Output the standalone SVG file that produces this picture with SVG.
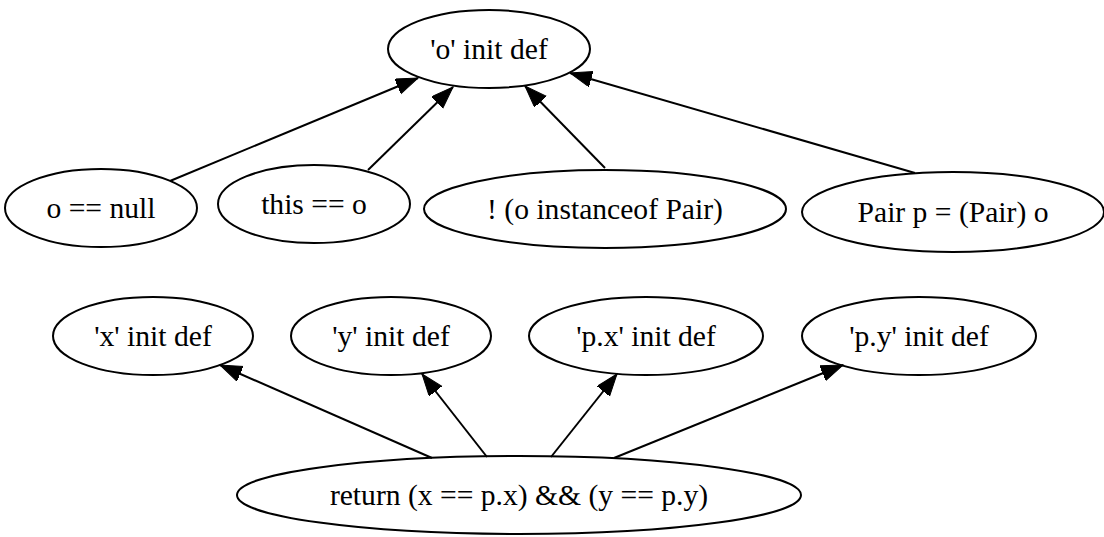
<svg xmlns="http://www.w3.org/2000/svg" width="1104" height="537" viewBox="0 0 1104 537">
<style>
.n ellipse{fill:none;stroke:#000;stroke-width:2}
.n text{font-family:"Liberation Serif","Times New Roman",serif;font-size:29.6px;text-anchor:middle;fill:#000}
.e line{stroke:#000;stroke-width:2;marker-end:url(#ah)}
</style>
<defs>
<marker id="ah" markerUnits="userSpaceOnUse" markerWidth="24" markerHeight="18" refX="22" refY="8" orient="auto">
<path d="M0,0 L22,8 L0,16 z" fill="#000" stroke="#000" stroke-width="1"/>
</marker>
</defs>
<rect width="1104" height="537" fill="#fff"/>
<g id="edges" class="e">
<line x1="170" y1="181" x2="418" y2="78"/>
<line x1="368" y1="170" x2="453" y2="87"/>
<line x1="605" y1="168" x2="525" y2="86"/>
<line x1="915" y1="173" x2="570" y2="73"/>
<line x1="432" y1="458" x2="220" y2="365"/>
<line x1="487" y1="457" x2="422" y2="374"/>
<line x1="551" y1="457" x2="617" y2="374"/>
<line x1="614" y1="458" x2="843" y2="365"/>
</g>
<g id="o_def" class="n"><ellipse cx="489" cy="49" rx="101" ry="39"/><text x="489" y="59">'o' init def</text></g>
<g id="o_null" class="n"><ellipse cx="101" cy="208" rx="96" ry="39"/><text x="101" y="218">o == null</text></g>
<g id="this_o" class="n"><ellipse cx="314" cy="204" rx="96" ry="39"/><text x="314" y="214">this == o</text></g>
<g id="instanceof" class="n"><ellipse cx="605" cy="209" rx="181" ry="39"/><text x="605" y="219">! (o instanceof Pair)</text></g>
<g id="pair_p" class="n"><ellipse cx="953" cy="212" rx="151" ry="40"/><text x="953" y="222">Pair p = (Pair) o</text></g>
<g id="x_def" class="n"><ellipse cx="153" cy="336" rx="100" ry="39"/><text x="153" y="346">'x' init def</text></g>
<g id="y_def" class="n"><ellipse cx="391" cy="336" rx="100" ry="39"/><text x="391" y="346">'y' init def</text></g>
<g id="px_def" class="n"><ellipse cx="646" cy="336" rx="117" ry="39"/><text x="646" y="346">'p.x' init def</text></g>
<g id="py_def" class="n"><ellipse cx="919" cy="336" rx="117" ry="39"/><text x="919" y="346">'p.y' init def</text></g>
<g id="ret" class="n"><ellipse cx="519" cy="495" rx="282" ry="39"/><text x="519" y="505">return (x == p.x) &amp;&amp; (y == p.y)</text></g>
</svg>
